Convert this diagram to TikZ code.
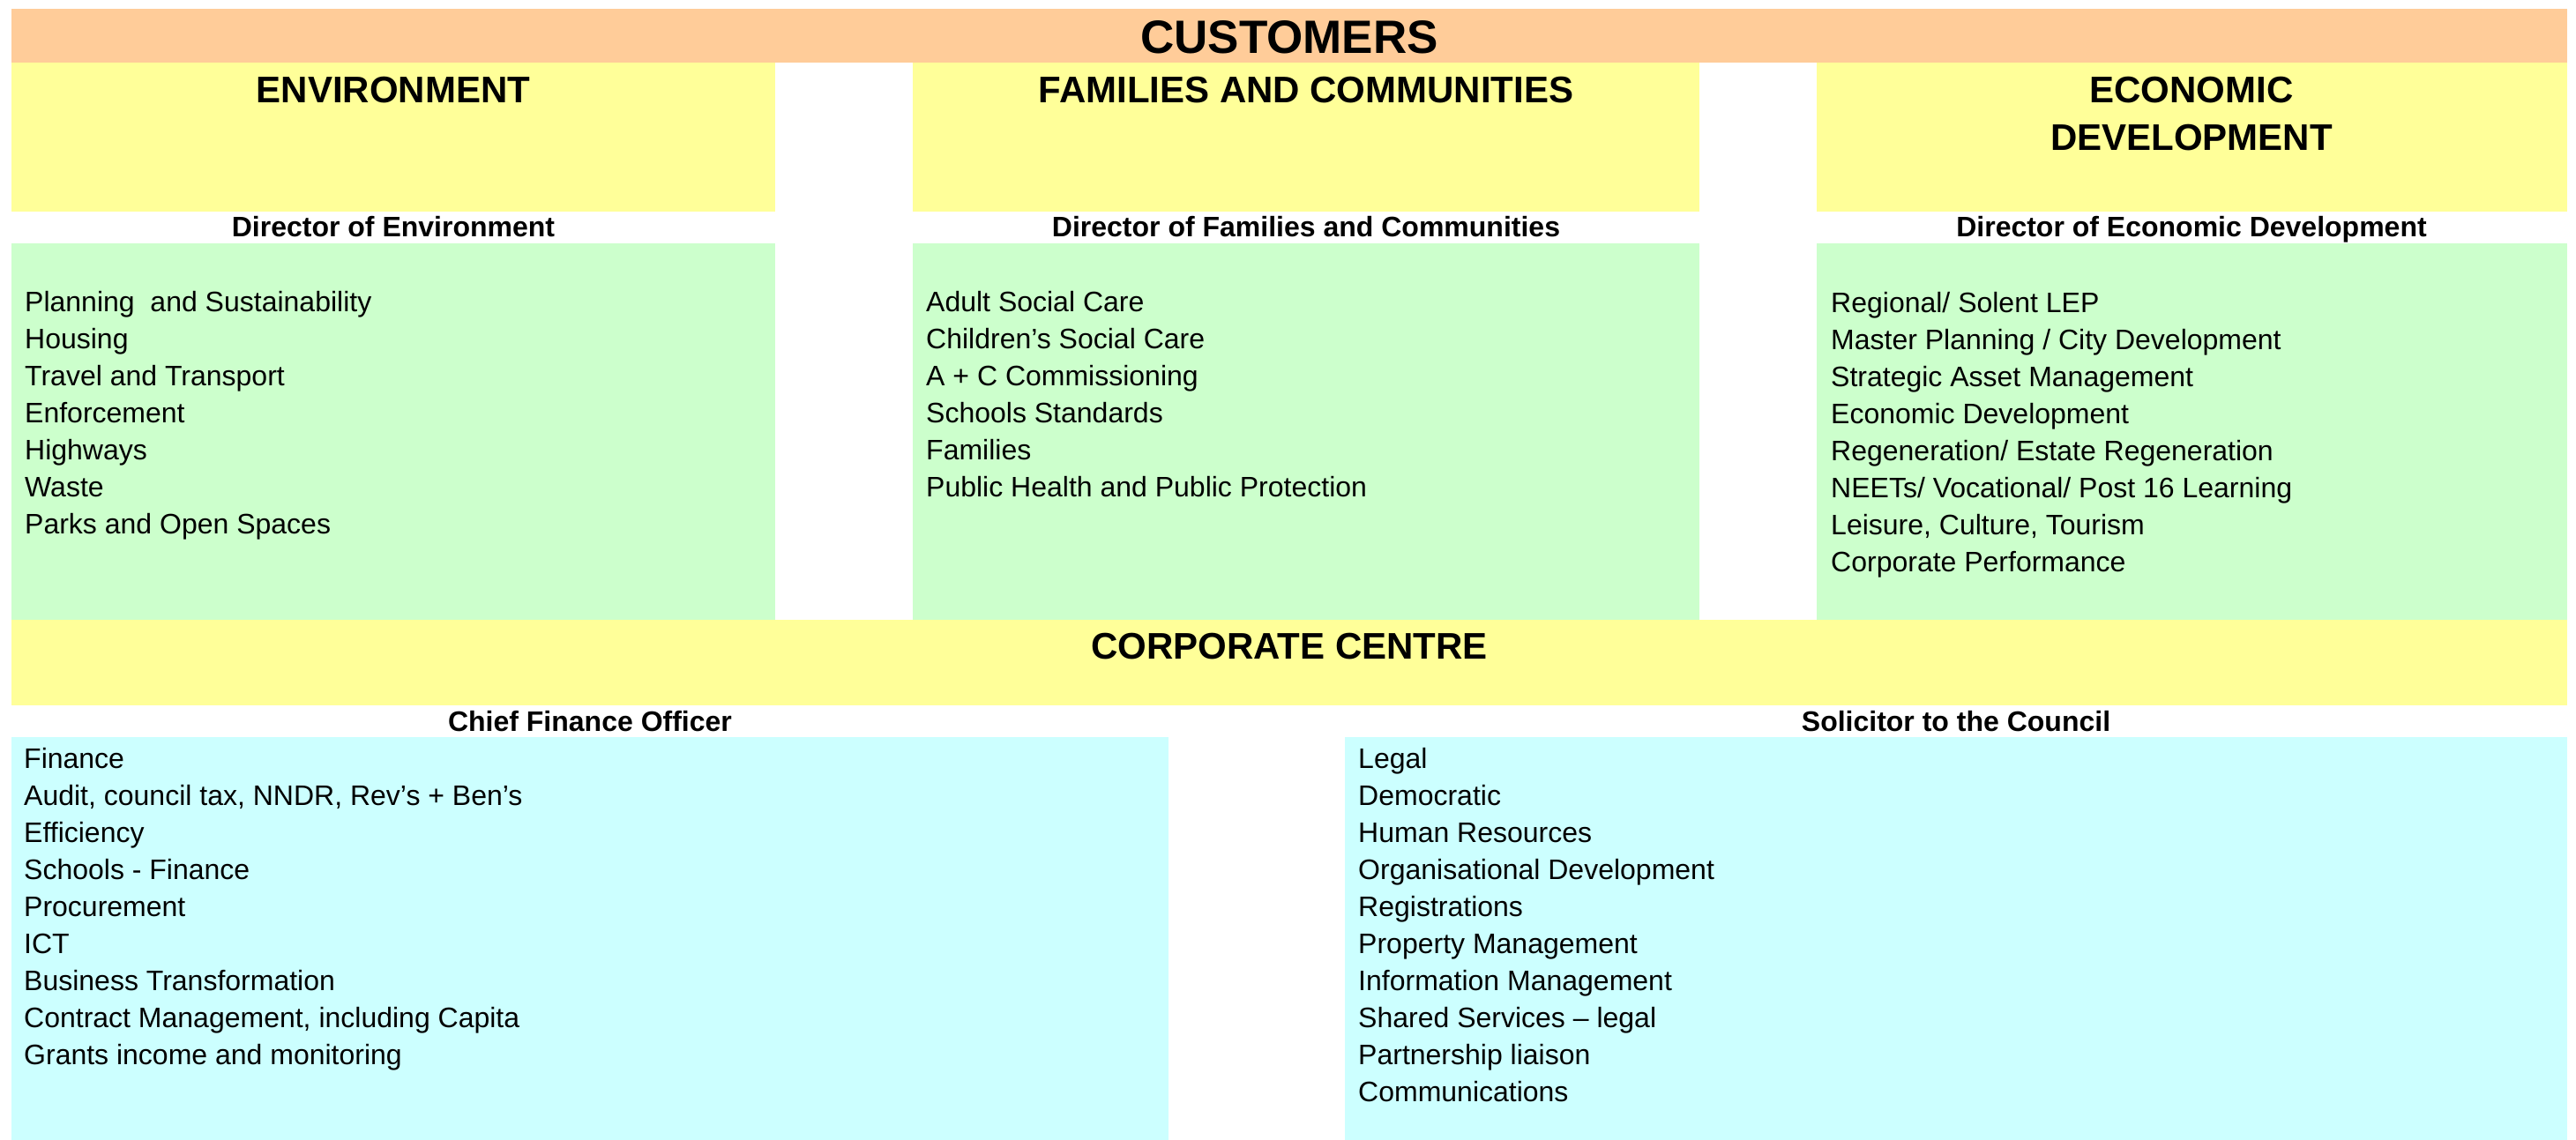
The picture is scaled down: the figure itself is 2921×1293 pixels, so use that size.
\documentclass[tikz,border=0pt]{standalone}
\usepackage{fontspec}
\setmainfont{Liberation Sans}
\definecolor{peach}{RGB}{255,204,153}
\definecolor{lyellow}{RGB}{255,255,153}
\definecolor{lgreen}{RGB}{204,255,204}
\definecolor{lcyan}{RGB}{204,255,255}
\begin{document}
\begin{tikzpicture}[x=1pt,y=-1pt,
  bigtitle/.style={font=\bfseries\fontsize{53}{60}\selectfont, anchor=base, inner sep=0},
  head/.style={font=\bfseries\fontsize{42}{50}\selectfont, anchor=base, inner sep=0},
  dirlabel/.style={font=\bfseries\fontsize{32}{38}\selectfont, anchor=base, inner sep=0},
  item/.style={font=\fontsize{32}{38}\selectfont, anchor=base west, inner sep=0}]
\useasboundingbox (0,0) rectangle (2921,1293);
\fill[white] (0,0) rectangle (2921,1293);
% boxes
\fill[peach] (13,10) rectangle (2911,71);
\fill[lyellow] (13,71) rectangle (879,240);
\fill[lyellow] (1035,71) rectangle (1927,240);
\fill[lyellow] (2060,71) rectangle (2911,240);
\fill[lgreen] (13,276) rectangle (879,703);
\fill[lgreen] (1035,276) rectangle (1927,703);
\fill[lgreen] (2060,276) rectangle (2911,703);
\fill[lyellow] (13,703) rectangle (2911,800);
\fill[lcyan] (13,836) rectangle (1325,1293);
\fill[lcyan] (1525,836) rectangle (2911,1293);
% headings
\node[bigtitle] (cust) at (1462,60) {CUSTOMERS};
\node[head] (envh) at (446,116) {ENVIRONMENT};
\node[head] (famh) at (1481,116) {FAMILIES AND COMMUNITIES};
\node[head] (ecoh1) at (2485,116) {ECONOMIC};
\node[head] (ecoh2) at (2485,170) {DEVELOPMENT};
\node[head] (corp) at (1462,747) {CORPORATE CENTRE};
% director labels
\node[dirlabel] (envd) at (446,268) {Director of Environment};
\node[dirlabel] (famd) at (1481,268) {Director of Families and Communities};
\node[dirlabel] (ecod) at (2485,268) {Director of Economic Development};
\node[dirlabel] (cfo) at (669,829) {Chief Finance Officer};
\node[dirlabel] (sol) at (2218,829) {Solicitor to the Council};
% lists
\foreach [count=\i from 0] \t in {Planning\ \ and Sustainability, Housing, Travel and Transport, Enforcement, Highways, Waste, Parks and Open Spaces}
  \node[item] (envi\i) at (28,353+42*\i) {\t};
\foreach [count=\i from 0] \t in {Adult Social Care, Children’s Social Care, A + C Commissioning, Schools Standards, Families, Public Health and Public Protection}
  \node[item] (fami\i) at (1050,353+42*\i) {\t};
\foreach [count=\i from 0] \t in {Regional/ Solent LEP, Master Planning / City Development, Strategic Asset Management, Economic Development, Regeneration/ Estate Regeneration, NEETs/ Vocational/ Post 16 Learning, {Leisure, Culture, Tourism}, Corporate Performance}
  \node[item] (ecoi\i) at (2076,354+42*\i) {\t};
\foreach [count=\i from 0] \t in {Finance, {Audit, council tax, NNDR, Rev’s + Ben’s}, Efficiency, Schools - Finance, Procurement, ICT, Business Transformation, {Contract Management, including Capita}, Grants income and monitoring}
  \node[item] (cfoi\i) at (27,871+42*\i) {\t};
\foreach [count=\i from 0] \t in {Legal, Democratic, Human Resources, Organisational Development, Registrations, Property Management, Information Management, Shared Services – legal, Partnership liaison, Communications}
  \node[item] (soli\i) at (1540,871+42*\i) {\t};
\end{tikzpicture}
\end{document}
